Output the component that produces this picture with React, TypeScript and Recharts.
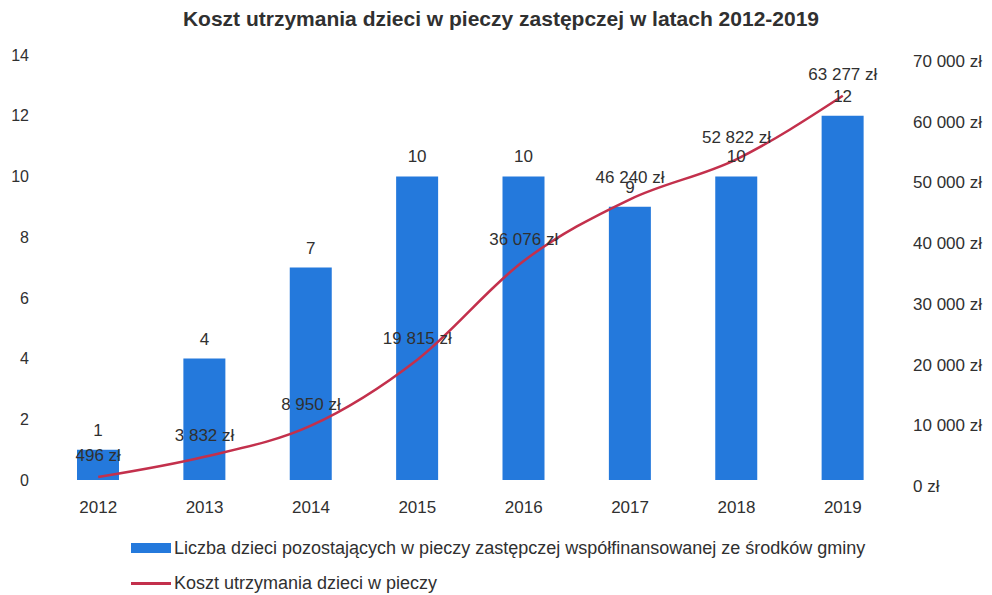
import { Bar, ComposedChart, LabelList, Line, XAxis, YAxis } from 'recharts';

const years = ['2012', '2013', '2014', '2015', '2016', '2017', '2018', '2019'];
const childrenCount = [1, 4, 7, 10, 10, 9, 10, 12];
const careCost = [496, 3832, 8950, 19815, 36076, 46240, 52822, 63277];
const countTicks = [0, 2, 4, 6, 8, 10, 12, 14];
const costTicks = [0, 10000, 20000, 30000, 40000, 50000, 60000, 70000];

const data = years.map((year, i) => ({ year, count: childrenCount[i], cost: careCost[i] }));

const FONT = '"Liberation Sans", Arial, sans-serif';
const TEXT = '#303030';
const BLUE = '#2479dc';
const RED = '#c3304c';

const zl = (v: number) => `${String(Math.round(v)).replace(/\B(?=(\d{3})+(?!\d))/g, ' ')} zł`;

function RightTick(props: any) {
  const { x, y, payload } = props;
  return (
    <text x={x} y={y + 6} dy="0.35em" textAnchor="start" fill={TEXT} fontSize={17} fontFamily={FONT}>
      {zl(payload.value)}
    </text>
  );
}

export default function App() {
  return (
    <div style={{ position: 'absolute', left: 0, top: 0, width: 992, height: 595, background: '#fff', fontFamily: FONT, color: TEXT }}>
      <div style={{ position: 'absolute', left: 0, width: 1002, top: 7, textAlign: 'center', fontSize: 21, fontWeight: 'bold' }}>
        Koszt utrzymania dzieci w pieczy zastępczej w latach 2012-2019
      </div>
      <ComposedChart width={992} height={595} data={data} margin={{ top: 55, right: 0, bottom: 85, left: 0 }}>
        <XAxis
          dataKey="year"
          axisLine={false}
          tickLine={false}
          tickSize={0}
          tickMargin={21}
          height={30}
          tick={{ fill: TEXT, fontSize: 17, fontFamily: FONT }}
        />
        <YAxis
          yAxisId="left"
          width={45}
          domain={[0, 14]}
          ticks={countTicks}
          interval={0}
          axisLine={false}
          tickLine={false}
          tickSize={0}
          tickMargin={16}
          tick={{ fill: TEXT, fontSize: 16, fontFamily: FONT }}
        />
        <YAxis
          yAxisId="right"
          orientation="right"
          width={96}
          domain={[0, 70000]}
          ticks={costTicks}
          interval={0}
          axisLine={false}
          tickLine={false}
          tickSize={0}
          tickMargin={17}
          tick={<RightTick />}
        />
        <Bar yAxisId="left" dataKey="count" fill={BLUE} barSize={42} isAnimationActive={false}>
          <LabelList dataKey="count" position="top" offset={14} fill={TEXT} fontSize={17} fontFamily={FONT} />
        </Bar>
        <Line
          yAxisId="right"
          dataKey="cost"
          type="monotone"
          stroke={RED}
          strokeWidth={2.5}
          dot={false}
          isAnimationActive={false}
        >
          <LabelList dataKey="cost" position="top" offset={16} fill={TEXT} fontSize={17} fontFamily={FONT} formatter={(v: any) => zl(Number(v))} />
        </Line>
      </ComposedChart>
      <div style={{ position: 'absolute', left: 131, top: 537, fontSize: 18, lineHeight: '22px' }}>
        <div style={{ display: 'flex', alignItems: 'center', height: 22 }}>
          <span style={{ display: 'inline-block', width: 40, height: 10, background: BLUE, marginRight: 3 }} />
          Liczba dzieci pozostających w pieczy zastępczej współfinansowanej ze środków gminy
        </div>
        <div style={{ display: 'flex', alignItems: 'center', height: 22, marginTop: 13 }}>
          <span style={{ display: 'inline-block', width: 40, height: 3, background: RED, marginRight: 3 }} />
          Koszt utrzymania dzieci w pieczy
        </div>
      </div>
    </div>
  );
}
